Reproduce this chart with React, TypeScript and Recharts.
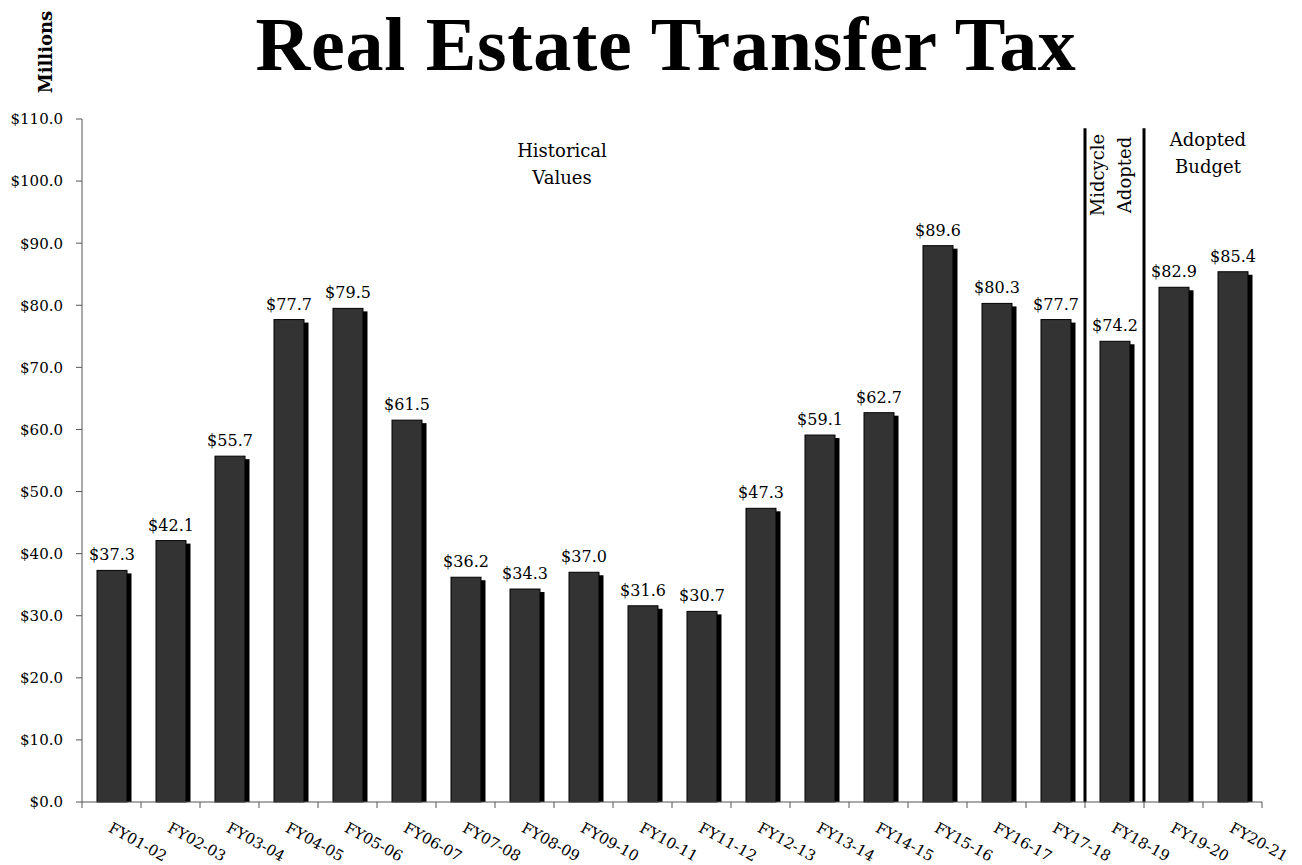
import React from 'react';
import { BarChart, Bar, XAxis, YAxis, LabelList, ReferenceLine } from 'recharts';

const years = [
  'FY01-02', 'FY02-03', 'FY03-04', 'FY04-05', 'FY05-06', 'FY06-07', 'FY07-08',
  'FY08-09', 'FY09-10', 'FY10-11', 'FY11-12', 'FY12-13', 'FY13-14', 'FY14-15',
  'FY15-16', 'FY16-17', 'FY17-18', 'FY18-19', 'FY19-20', 'FY20-21',
];
const revenue = [
  37.3, 42.1, 55.7, 77.7, 79.5, 61.5, 36.2, 34.3, 37.0, 31.6,
  30.7, 47.3, 59.1, 62.7, 89.6, 80.3, 77.7, 74.2, 82.9, 85.4,
];
const yTicks = [0, 10, 20, 30, 40, 50, 60, 70, 80, 90, 100, 110];
const midcycleYear = 'FY18-19';
const dividerTop = 108.5;

const data = years.map((year, i) => ({ year, value: revenue[i] }));

const W = 1302;
const H = 865;
const PLOT_LEFT = 82;
const PLOT_RIGHT = 1262;
const BAND = (PLOT_RIGHT - PLOT_LEFT) / years.length;
const serif = '"DejaVu Serif", serif';

// dark bar with a black drop shadow to the right
const ShadowBar = (props: any) => {
  const { x, y, width, height } = props;
  return (
    <g>
      <rect x={x + 4.5} y={y + 3} width={width} height={Math.max(height - 3, 0)} fill="#000" />
      <rect x={x} y={y} width={width} height={height} fill="#333333" stroke="#000" strokeWidth={1} />
    </g>
  );
};

const XTick = (props: any) => {
  const { x, y, payload, index } = props;
  const left = x - BAND / 2;
  return (
    <g>
      <line x1={left} y1={802} x2={left} y2={808} stroke="#555" />
      {index === years.length - 1 && (
        <line x1={x + BAND / 2} y1={802} x2={x + BAND / 2} y2={808} stroke="#555" />
      )}
      <text
        transform={`translate(${x - 4},${y + 21}) rotate(29)`}
        textAnchor="start"
        fontFamily={serif}
        fontSize={15}
        fill="#000"
      >
        {payload.value}
      </text>
    </g>
  );
};

const App: React.FC = () => {
  return (
    <div style={{ position: 'absolute', left: 0, top: 0, width: W, height: H, background: '#fff' }}>
      <BarChart
        width={W}
        height={H}
        data={data}
        margin={{ top: 119, right: W - PLOT_RIGHT, bottom: 0, left: 0 }}
        barSize={30}
      >
        <XAxis
          dataKey="year"
          height={63}
          tickLine={false}
          interval={0}
          stroke="#555"
          tick={<XTick />}
        />
        <YAxis
          width={PLOT_LEFT}
          domain={[0, 110]}
          ticks={yTicks}
          interval={0}
          tickSize={6}
          tickMargin={13}
          stroke="#555"
          tick={{ fontFamily: serif, fontSize: 15, fill: '#000' }}
          tickFormatter={(v: number) => `$${v.toFixed(1)}`}
        />
        <Bar dataKey="value" shape={<ShadowBar />} isAnimationActive={false}>
          <LabelList
            dataKey="value"
            position="top"
            offset={10}
            formatter={(v: any) => `$${Number(v).toFixed(1)}`}
            style={{ fontFamily: serif, fontSize: 16, fill: '#000' }}
          />
        </Bar>
        <ReferenceLine
          segment={[{ x: midcycleYear, y: 0 }, { x: midcycleYear, y: dividerTop }]}
          position="start"
          stroke="#000"
          strokeWidth={3}
        />
        <ReferenceLine
          segment={[{ x: midcycleYear, y: 0 }, { x: midcycleYear, y: dividerTop }]}
          position="end"
          stroke="#000"
          strokeWidth={3}
        />
      </BarChart>
      <svg width={W} height={H} style={{ position: 'absolute', left: 0, top: 0, pointerEvents: 'none' }}>
        <text x={666} y={70} textAnchor="middle" fontFamily='"Liberation Serif", serif' fontWeight="bold" fontSize={76} letterSpacing={0.7} fill="#000">
          Real Estate Transfer Tax
        </text>
        <text transform="translate(52,52) rotate(-90)" textAnchor="middle" fontFamily={serif} fontWeight="bold" fontSize={18} fill="#000">
          Millions
        </text>
        <text x={562} y={157} textAnchor="middle" fontFamily={serif} fontSize={18} fill="#000">Historical</text>
        <text x={562} y={184} textAnchor="middle" fontFamily={serif} fontSize={18} fill="#000">Values</text>
        <text transform="translate(1104,175) rotate(-90)" textAnchor="middle" fontFamily={serif} fontSize={18} fill="#000">Midcycle</text>
        <text transform="translate(1131,175) rotate(-90)" textAnchor="middle" fontFamily={serif} fontSize={18} fill="#000">Adopted</text>
        <text x={1208} y={146} textAnchor="middle" fontFamily={serif} fontSize={18} fill="#000">Adopted</text>
        <text x={1208} y={173} textAnchor="middle" fontFamily={serif} fontSize={18} fill="#000">Budget</text>
      </svg>
    </div>
  );
};

export default App;
